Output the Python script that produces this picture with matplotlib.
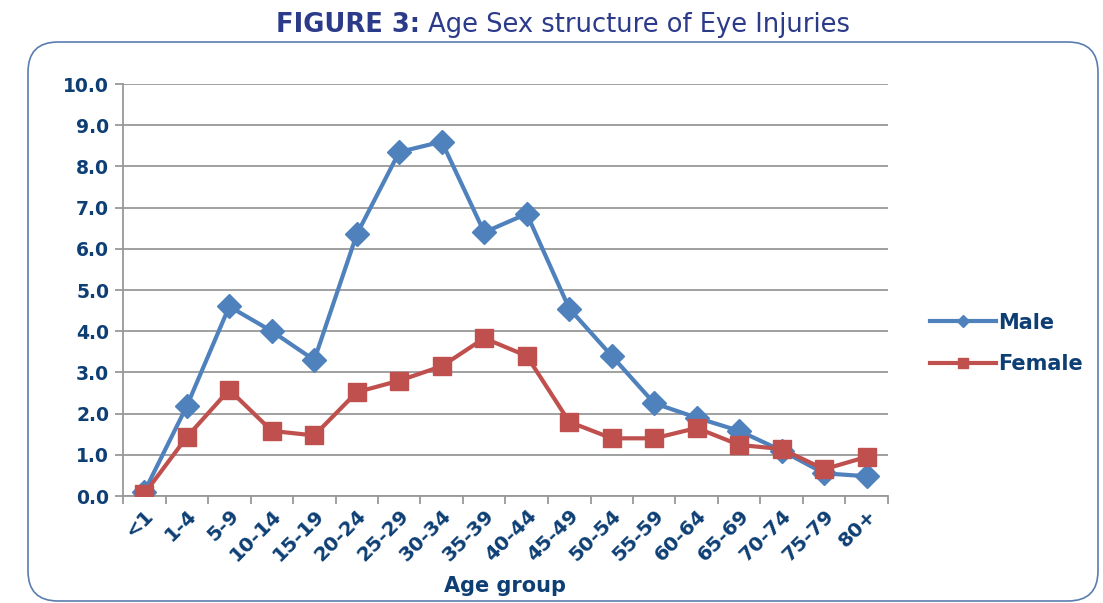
import matplotlib.pyplot as plt
import numpy as np
from matplotlib.patches import FancyBboxPatch

# ---- data ----
age_groups = ["<1", "1-4", "5-9", "10-14", "15-19", "20-24", "25-29", "30-34", "35-39",
              "40-44", "45-49", "50-54", "55-59", "60-64", "65-69", "70-74", "75-79", "80+"]
male = [0.1, 2.18, 4.6, 4.0, 3.3, 6.35, 8.35, 8.6, 6.4,
        6.85, 4.55, 3.4, 2.25, 1.9, 1.58, 1.1, 0.55, 0.48]
female = [0.05, 1.43, 2.58, 1.58, 1.47, 2.52, 2.8, 3.15, 3.83,
          3.4, 1.8, 1.4, 1.4, 1.65, 1.24, 1.14, 0.65, 0.95]

navy = "#0e3f74"
title_col = "#2c3a8a"
male_col = "#4f81bd"
female_col = "#c0504d"
font = "DejaVu Sans"

fig = plt.figure(figsize=(11.03, 6.03), dpi=100)

# rounded frame (inches)
frame = FancyBboxPatch((0.28, 0.02), 10.70, 5.59,
                       boxstyle="round,pad=0,rounding_size=0.3",
                       transform=fig.dpi_scale_trans, facecolor="white",
                       edgecolor="#5a7db0", linewidth=1.2, zorder=-5)
fig.patches.append(frame)

ax = fig.add_axes([123 / 1103, 1 - 496 / 603, 765 / 1103, 412 / 603])
ax.set_facecolor("none")

x = np.arange(len(age_groups))
ax.plot(x, male, color=male_col, lw=3, marker="D", ms=12, label="Male", zorder=3)
ax.plot(x, female, color=female_col, lw=3, marker="s", ms=13.5, label="Female", zorder=4)

ax.set_xlim(-0.5, len(age_groups) - 0.5)
ax.set_ylim(0, 10)
ax.set_yticks(np.arange(0, 10.1, 1))
ax.set_yticklabels([f"{v:.1f}" for v in np.arange(0, 10.1, 1)],
                   fontsize=13.5, fontweight="bold", color=navy, family=font)
ax.yaxis.grid(True, color="#999999", lw=1.3)
ax.set_axisbelow(True)

ax.set_xticks(x)
ax.set_xticklabels(age_groups, rotation=45, ha="right", rotation_mode="anchor",
                   fontsize=14.5, fontweight="bold", color=navy, family=font)
ax.tick_params(axis="x", length=0, pad=7)
ax.set_xticks(np.arange(-0.5, len(age_groups), 1), minor=True)
ax.tick_params(axis="x", which="minor", length=6, color="#999999", width=1.3)
ax.tick_params(axis="y", length=6, color="#999999", width=1.3, pad=4)

for s in ["top", "right"]:
    ax.spines[s].set_visible(False)
for s in ["left", "bottom"]:
    ax.spines[s].set_color("#999999")
    ax.spines[s].set_linewidth(1.3)

ax.set_xlabel("Age group", fontsize=15, fontweight="bold", color=navy, family=font, labelpad=8)

leg = ax.legend(loc="center left", bbox_to_anchor=(1.03, 0.37), frameon=False,
                prop={"family": font, "weight": "bold", "size": 15},
                handlelength=3.2, handletextpad=0.1, labelspacing=1.05, markerscale=0.55)
for t in leg.get_texts():
    t.set_color(navy)

# title: bold prefix + regular rest
fig.canvas.draw()
r = fig.canvas.get_renderer()
t1 = fig.text(0, 1 - 25 / 603, "FIGURE 3:", fontsize=18.5, fontweight="bold",
              color=title_col, family=font, va="center")
t2 = fig.text(0, 1 - 25 / 603, " Age Sex structure of Eye Injuries", fontsize=18.5,
              color=title_col, family=font, va="center")
w1 = t1.get_window_extent(r).width / 1103
w2 = t2.get_window_extent(r).width / 1103
start = 563 / 1103 - (w1 + w2) / 2
t1.set_x(start)
t2.set_x(start + w1)

fig.savefig("out.png", dpi=100)
